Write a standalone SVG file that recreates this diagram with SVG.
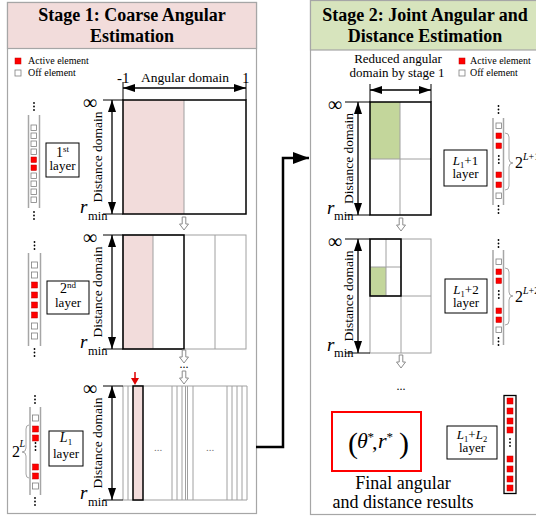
<svg xmlns="http://www.w3.org/2000/svg" width="536" height="517" viewBox="0 0 536 517">
<defs>
<style>
text{font-family:"Liberation Serif","Times New Roman",serif;fill:#000}
.title{font-size:18px;font-weight:bold;text-anchor:middle}
.leg{font-size:10px}
.lbl{font-size:13px;text-anchor:middle}
.frame{fill:none;stroke:#a6a6a6;stroke-width:1.2}
.bold{fill:none;stroke:#000;stroke-width:1.5}
.grid{fill:none;stroke:#a0a0a0;stroke-width:1}
.tick{stroke:#000;stroke-width:1}
.dbl{stroke:#000;stroke-width:1.3;fill:none;marker-start:url(#tri);marker-end:url(#tri)}
.on{fill:#f00;stroke:#c00000;stroke-width:0.5}
.off{fill:#fff;stroke:#7f7f7f;stroke-width:0.8}
.rail{stroke:#a6a6a6;stroke-width:1.5}
.dot{fill:#000}
.hol{fill:#fff;stroke:#8c8c8c;stroke-width:1}
.box{fill:#fff;stroke:#000;stroke-width:1}
.brace{fill:none;stroke:#a6a6a6;stroke-width:1}
.inf{font-size:20px;text-anchor:middle}
.r{font-size:19px;font-style:italic}
.min{font-size:12.5px}
.dd{font-size:13.5px;text-anchor:middle}
.pink{fill:#f2dcdb}
.green{fill:#c3d69b}
.ell{font-size:11px;fill:#777;text-anchor:middle}
</style>
<marker id="tri" viewBox="0 0 12 8" refX="12" refY="4" markerWidth="12" markerHeight="8" markerUnits="userSpaceOnUse" orient="auto-start-reverse"><path d="M0,0 L12,4 L0,8 Z" fill="#000"/></marker>
<marker id="big" viewBox="0 0 16 12" refX="16" refY="6" markerWidth="16" markerHeight="12" markerUnits="userSpaceOnUse" orient="auto"><path d="M0,0 L16,6 L0,12 Z" fill="#000"/></marker>
<path id="hollow" class="hol" d="M-1.8,0 L1.8,0 L1.8,7 L4.5,7 L0,13 L-4.5,7 L-1.8,7 Z"/>
<g id="vd"><circle cx="0" cy="0" r="0.9" class="dot"/><circle cx="0" cy="3.5" r="0.9" class="dot"/><circle cx="0" cy="7" r="0.9" class="dot"/></g>
</defs>
<rect width="536" height="517" fill="#fff"/>

<!-- Stage 1 panel -->
<g id="stage1">
<rect class="frame" x="7.5" y="2.5" width="249" height="511"/>
<rect x="7.5" y="2.5" width="249" height="46" fill="#f2dcdb" stroke="#a6a6a6" stroke-width="1.2"/>
<text class="title" x="132" y="21">Stage 1: Coarse Angular</text>
<text class="title" x="132" y="42">Estimation</text>
<rect class="on" x="15" y="58" width="6" height="6"/>
<text class="leg" x="28" y="64">Active element</text>
<rect class="off" x="15" y="70" width="6" height="6"/>
<text class="leg" x="28" y="76">Off element</text>
<text x="117" y="83" font-size="15">-1</text>
<text x="242" y="83" font-size="15">1</text>
<text x="185" y="82" font-size="13.5" text-anchor="middle">Angular domain</text>
<line class="tick" x1="123" y1="82" x2="123" y2="100"/>
<line class="tick" x1="246" y1="82" x2="246" y2="100"/>
<line class="dbl" x1="123" y1="88" x2="246" y2="88"/>
</g>

<!-- Stage 1, layer 1 -->
<g id="s1-layer1">
<line class="rail" x1="28.5" y1="115" x2="28.5" y2="208"/>
<line class="rail" x1="39.5" y1="115" x2="39.5" y2="208"/>
<use href="#vd" x="34" y="103"/>
<use href="#vd" x="34" y="212"/>
<rect class="off" x="31" y="125" width="5.5" height="5.5"/>
<rect class="off" x="31" y="133" width="5.5" height="5.5"/>
<rect class="off" x="31" y="141" width="5.5" height="5.5"/>
<rect class="off" x="31" y="149" width="5.5" height="5.5"/>
<rect class="on" x="31" y="157" width="5.5" height="5.5"/>
<rect class="on" x="31" y="165" width="5.5" height="5.5"/>
<rect class="off" x="31" y="173" width="5.5" height="5.5"/>
<rect class="off" x="31" y="181" width="5.5" height="5.5"/>
<rect class="off" x="31" y="189" width="5.5" height="5.5"/>
<rect class="off" x="31" y="197" width="5.5" height="5.5"/>
<rect class="box" x="46" y="143" width="33" height="34"/>
<text x="62.5" y="157" font-size="14" text-anchor="middle">1<tspan font-size="9" dy="-5">st</tspan></text>
<text class="lbl" x="62.5" y="170">layer</text>
<rect class="pink" x="123" y="100" width="61" height="114"/>
<line class="grid" x1="184" y1="100" x2="184" y2="214"/>
<rect class="bold" x="123" y="100" width="123" height="114"/>
<line class="tick" x1="103" y1="100" x2="123" y2="100"/>
<line class="tick" x1="103" y1="214" x2="123" y2="214"/>
<text class="inf" x="90" y="109">∞</text>
<line class="dbl" x1="112" y1="100" x2="112" y2="214"/>
<text class="dd" transform="translate(102,157) rotate(-90)">Distance domain</text>
<text class="r" x="80" y="213">r</text><text class="min" x="88" y="220">min</text>
</g>

<!-- Stage 1, layer 2 -->
<g id="s1-layer2">
<line class="rail" x1="28.5" y1="253" x2="28.5" y2="346"/>
<line class="rail" x1="40.5" y1="253" x2="40.5" y2="346"/>
<use href="#vd" x="34.5" y="242"/>
<use href="#vd" x="34.5" y="349"/>
<rect class="off" x="31.5" y="262" width="6" height="6"/>
<rect class="off" x="31.5" y="272" width="6" height="6"/>
<rect class="on" x="31.5" y="282" width="6" height="6"/>
<rect class="on" x="31.5" y="292" width="6" height="6"/>
<rect class="on" x="31.5" y="302" width="6" height="6"/>
<rect class="on" x="31.5" y="312" width="6" height="6"/>
<rect class="off" x="31.5" y="323" width="6" height="6"/>
<rect class="off" x="31.5" y="333" width="6" height="6"/>
<rect class="box" x="47" y="281" width="42" height="33"/>
<text x="68" y="293" font-size="14" text-anchor="middle">2<tspan font-size="9" dy="-5">nd</tspan></text>
<text class="lbl" x="68" y="307">layer</text>
<rect class="pink" x="123" y="235" width="30" height="114"/>
<rect class="grid" x="123" y="235" width="123" height="114"/>
<line class="grid" x1="153" y1="235" x2="153" y2="349"/>
<line class="grid" x1="215" y1="235" x2="215" y2="349"/>
<rect class="bold" x="123" y="235" width="61" height="114"/>
<line class="tick" x1="103" y1="235" x2="123" y2="235"/>
<line class="tick" x1="103" y1="349" x2="123" y2="349"/>
<text class="inf" x="90" y="244">∞</text>
<line class="dbl" x1="112" y1="235" x2="112" y2="349"/>
<text class="dd" transform="translate(102,292) rotate(-90)">Distance domain</text>
<text class="r" x="80" y="348">r</text><text class="min" x="88" y="355">min</text>
</g>

<!-- Stage 1, layer L1 -->
<g id="s1-layerL1">
<line class="rail" x1="30" y1="407" x2="30" y2="495"/>
<line class="rail" x1="40.5" y1="407" x2="40.5" y2="495"/>
<use href="#vd" x="35" y="396"/>
<use href="#vd" x="35" y="498"/>
<rect class="off" x="32.5" y="415" width="6" height="6"/>
<rect class="on" x="32.5" y="426" width="6" height="6"/>
<rect class="on" x="32.5" y="435" width="6" height="6"/>
<use href="#vd" x="35.5" y="443"/>
<rect class="on" x="32.5" y="464" width="6" height="6"/>
<rect class="on" x="32.5" y="473" width="6" height="6"/>
<rect class="off" x="32.5" y="483" width="6" height="6"/>
<path class="brace" d="M29,425 Q26,425 26,429 L26,448 Q26,452 22,452 Q26,452 26,456 L26,474 Q26,478 29,478"/>
<text x="12" y="457" font-size="16">2</text>
<text x="19.5" y="447" font-size="10" font-style="italic">L</text>
<rect class="box" x="49" y="431" width="34" height="35"/>
<text x="66" y="442" font-size="14" text-anchor="middle"><tspan font-style="italic">L</tspan><tspan font-size="9" dy="3">1</tspan></text>
<text class="lbl" x="66" y="458">layer</text>
<g class="grid">
<line x1="123" y1="386" x2="247" y2="386"/>
<line x1="123" y1="500" x2="247" y2="500"/>
<line x1="123" y1="386" x2="123" y2="500"/>
<line x1="128" y1="386" x2="128" y2="500"/>
<line x1="172" y1="386" x2="172" y2="500"/>
<line x1="177" y1="386" x2="177" y2="500"/>
<line x1="182" y1="386" x2="182" y2="500"/>
<line x1="185.5" y1="386" x2="185.5" y2="500"/>
<line x1="187.5" y1="386" x2="187.5" y2="500"/>
<line x1="193" y1="386" x2="193" y2="500"/>
<line x1="227" y1="386" x2="227" y2="500"/>
<line x1="232" y1="386" x2="232" y2="500"/>
<line x1="237" y1="386" x2="237" y2="500"/>
<line x1="242" y1="386" x2="242" y2="500"/>
<line x1="247" y1="386" x2="247" y2="500"/>
</g>
<rect class="pink" x="133" y="386" width="10" height="114"/>
<rect class="bold" x="133" y="386" width="10" height="114"/>
<text class="ell" x="158" y="451">...</text>
<text class="ell" x="210" y="451">...</text>
<line x1="135" y1="372" x2="135" y2="379" stroke="#e00000" stroke-width="1.5"/>
<path d="M131,378 L139,378 L135,385 Z" fill="#e00000"/>
<line class="tick" x1="103" y1="386" x2="123" y2="386"/>
<line class="tick" x1="103" y1="500" x2="123" y2="500"/>
<text class="inf" x="90" y="395">∞</text>
<line class="dbl" x1="112" y1="386" x2="112" y2="500"/>
<text class="dd" transform="translate(102,443) rotate(-90)">Distance domain</text>
<text class="r" x="80" y="499">r</text><text class="min" x="88" y="506">min</text>
</g>

<!-- Stage 2 panel -->
<g id="stage2">
<rect class="frame" x="310.5" y="0.5" width="240" height="514"/>
<rect x="310.5" y="0.5" width="240" height="49.5" fill="#d7e4bd" stroke="#a6a6a6" stroke-width="1.2"/>
<text class="title" x="425" y="21">Stage 2: Joint Angular and</text>
<text class="title" x="425" y="42">Distance Estimation</text>
<text x="398" y="63" font-size="13" text-anchor="middle">Reduced angular</text>
<text x="397" y="77" font-size="13" text-anchor="middle">domain by stage 1</text>
<rect class="on" x="459" y="58" width="6" height="6"/>
<text class="leg" x="470" y="64">Active element</text>
<rect class="off" x="459" y="70" width="6" height="6"/>
<text class="leg" x="470" y="76">Off element</text>
<line class="tick" x1="370" y1="84" x2="370" y2="102"/>
<line class="tick" x1="431" y1="84" x2="431" y2="102"/>
<line class="dbl" x1="370" y1="90" x2="431" y2="90"/>
</g>

<!-- Stage 2, layer L1+1 -->
<g id="s2-layer1">
<rect class="green" x="370" y="102" width="30" height="57"/>
<line class="grid" x1="400" y1="102" x2="400" y2="215"/>
<line class="grid" x1="370" y1="159" x2="431" y2="159"/>
<rect class="bold" x="370" y="102" width="61" height="113"/>
<line class="tick" x1="345" y1="102" x2="370" y2="102"/>
<line class="tick" x1="345" y1="215" x2="370" y2="215"/>
<text class="inf" x="335" y="111">∞</text>
<line class="dbl" x1="358" y1="102" x2="358" y2="215"/>
<text class="dd" transform="translate(352.5,158.5) rotate(-90)">Distance domain</text>
<text class="r" x="327" y="214">r</text><text class="min" x="334" y="220">min</text>
<rect class="box" x="444" y="150" width="43" height="36"/>
<text x="465.5" y="165" font-size="13" text-anchor="middle"><tspan font-style="italic">L</tspan><tspan font-size="8.5" dy="3">1</tspan><tspan dy="-3">+1</tspan></text>
<text class="lbl" x="465.5" y="178">layer</text>
<line class="rail" x1="493" y1="118" x2="493" y2="205"/>
<line class="rail" x1="503.5" y1="118" x2="503.5" y2="205"/>
<use href="#vd" x="498.5" y="106"/>
<use href="#vd" x="498.5" y="206"/>
<rect class="off" x="496" y="123" width="5.5" height="5.5"/>
<rect class="on" x="496" y="133" width="5.5" height="5.5"/>
<rect class="on" x="496" y="143" width="5.5" height="5.5"/>
<use href="#vd" x="498.8" y="156"/>
<rect class="on" x="496" y="172" width="5.5" height="5.5"/>
<rect class="on" x="496" y="182" width="5.5" height="5.5"/>
<rect class="off" x="496" y="193" width="5.5" height="5.5"/>
<path class="brace" d="M505,133 Q509,133 509,137 L509,159 Q509,163 513,163 Q509,163 509,167 L509,186 Q509,190 505,190"/>
<text x="515" y="168" font-size="16">2</text>
<text x="523" y="160" font-size="10"><tspan font-style="italic">L</tspan>+1</text>
</g>

<!-- Stage 2, layer L1+2 -->
<g id="s2-layer2">
<rect class="green" x="370" y="267" width="16" height="29"/>
<rect class="grid" x="370" y="239" width="61" height="114"/>
<line class="grid" x1="401" y1="239" x2="401" y2="353"/>
<line class="grid" x1="370" y1="296" x2="431" y2="296"/>
<line class="grid" x1="386" y1="239" x2="386" y2="296"/>
<line class="grid" x1="370" y1="267" x2="401" y2="267"/>
<rect class="bold" x="370" y="239" width="31" height="57"/>
<line class="tick" x1="345" y1="239" x2="370" y2="239"/>
<line class="tick" x1="345" y1="353" x2="370" y2="353"/>
<text class="inf" x="335" y="248">∞</text>
<line class="dbl" x1="358" y1="239" x2="358" y2="353"/>
<text class="dd" transform="translate(352.5,296) rotate(-90)">Distance domain</text>
<text class="r" x="327" y="351">r</text><text class="min" x="334" y="357">min</text>
<rect class="box" x="445" y="279" width="42" height="34"/>
<text x="466" y="294" font-size="13" text-anchor="middle"><tspan font-style="italic">L</tspan><tspan font-size="8.5" dy="3">1</tspan><tspan dy="-3">+2</tspan></text>
<text class="lbl" x="466" y="307">layer</text>
<line class="rail" x1="493" y1="250" x2="493" y2="345"/>
<line class="rail" x1="503.5" y1="250" x2="503.5" y2="345"/>
<use href="#vd" x="498.5" y="240"/>
<use href="#vd" x="498.5" y="338"/>
<rect class="off" x="496" y="259" width="5.5" height="5.5"/>
<rect class="on" x="496" y="269" width="5.5" height="5.5"/>
<rect class="on" x="496" y="278" width="5.5" height="5.5"/>
<use href="#vd" x="498.8" y="291"/>
<rect class="on" x="496" y="308" width="5.5" height="5.5"/>
<rect class="on" x="496" y="317" width="5.5" height="5.5"/>
<rect class="off" x="496" y="327" width="5.5" height="5.5"/>
<path class="brace" d="M505,268 Q509,268 509,272 L509,292 Q509,296 513,296 Q509,296 509,300 L509,321 Q509,325 505,325"/>
<text x="515" y="302" font-size="16">2</text>
<text x="523" y="294" font-size="10"><tspan font-style="italic">L</tspan>+2</text>
</g>

<!-- Stage 2, final layer -->
<g id="s2-final">
<text x="401" y="390" font-size="12" text-anchor="middle">...</text>
<rect x="332" y="412" width="89" height="59" fill="none" stroke="#f00" stroke-width="2"/>
<text x="348" y="453" font-size="30">(</text>
<text x="357" y="448" font-size="22" font-style="italic">θ</text>
<text x="367.5" y="441" font-size="13">*</text>
<text x="372" y="449" font-size="22">,</text>
<text x="378" y="448" font-size="22" font-style="italic">r</text>
<text x="386.5" y="441" font-size="13">*</text>
<text x="399" y="453" font-size="30">)</text>
<text x="403" y="489" font-size="18" text-anchor="middle">Final angular</text>
<text x="403" y="508" font-size="18" text-anchor="middle">and distance results</text>
<rect class="box" x="447" y="426" width="50" height="33"/>
<text x="472" y="439" font-size="13" text-anchor="middle"><tspan font-style="italic">L</tspan><tspan font-size="8.5" dy="3">1</tspan><tspan dy="-3">+</tspan><tspan font-style="italic">L</tspan><tspan font-size="8.5" dy="3">2</tspan></text>
<text class="lbl" x="472" y="452">layer</text>
<rect x="504" y="395.5" width="12" height="98" fill="#fff" stroke="#000" stroke-width="1.3"/>
<rect class="on" x="507" y="398" width="6" height="6"/>
<rect class="on" x="507" y="408" width="6" height="6"/>
<rect class="on" x="507" y="418" width="6" height="6"/>
<rect class="on" x="507" y="427" width="6" height="6"/>
<use href="#vd" x="510" y="439"/>
<rect class="on" x="507" y="456" width="6" height="6"/>
<rect class="on" x="507" y="466" width="6" height="6"/>
<rect class="on" x="507" y="476" width="6" height="6"/>
<rect class="on" x="507" y="485" width="6" height="6"/>
</g>

<!-- Connectors -->
<g id="connectors">
<use href="#hollow" x="184" y="217"/>
<use href="#hollow" x="184" y="350"/>
<text x="184" y="368" font-size="12" text-anchor="middle">...</text>
<use href="#hollow" x="184" y="371"/>
<use href="#hollow" x="401" y="218"/>
<use href="#hollow" x="401" y="355"/>
<path d="M256,447 H283 V158 H309" fill="none" stroke="#000" stroke-width="2.5" marker-end="url(#big)"/>
</g>
</svg>
